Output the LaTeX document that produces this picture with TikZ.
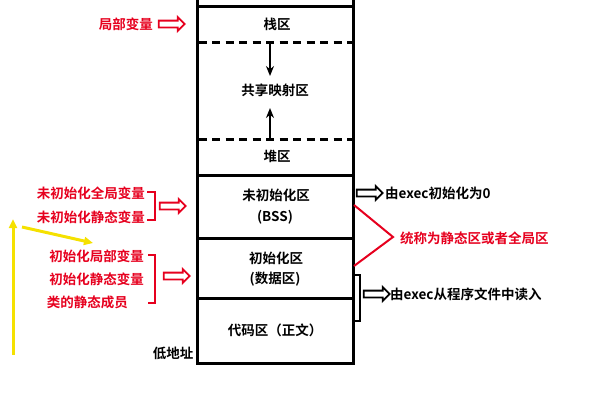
\documentclass[tikz,border=0pt]{standalone}
\usepackage{fontspec}
\newfontfamily\cjk{Noto Sans CJK SC}[BoldFont={* Bold}]
\usetikzlibrary{arrows.meta, shapes.arrows}

\definecolor{memred}{RGB}{230,0,30}
\definecolor{memyellow}{RGB}{245,225,0}

\begin{document}
\begin{tikzpicture}[x=1pt, y=-1pt,
  every node/.style={font=\cjk\bfseries\fontsize{13.5}{16}\selectfont, inner sep=0pt},
  seg/.style={line width=3pt},
  gap/.style={line width=3pt, dash pattern=on 8pt off 5.5pt},
  growarrow/.style={-{Stealth[length=10pt, width=8pt]}, line width=2.6pt},
  hollow/.style={single arrow, draw=#1, line width=1.8pt, fill=white,
    inner sep=2.5pt, minimum height=26pt, minimum width=13pt,
    single arrow head extend=3.5pt, single arrow tip angle=90},
  hollow/.default=black,
  redtext/.style={text=memred},
  brace/.style={memred, line width=2pt},
  hint/.style={memyellow, line width=3pt, -{Triangle[length=9pt, width=8pt]}}
]

% Fix the page to the reference size
\useasboundingbox (0,0) rectangle (600,400);

% Memory column
\coordinate (tl) at (197,0);
\coordinate (br) at (353,363);
\draw[seg] (tl) -- (197,363) -- (br) -- (353,0);
\draw[seg] (197,6) -- (353,6);
\draw[gap] (198.5,42) -- (351.5,42);
\draw[gap] (198.5,139) -- (351.5,139);
\draw[seg] (197,175) -- (353,175);
\draw[seg] (197,238) -- (353,238);
\draw[seg] (197,298) -- (353,298);

% Segment labels
\node (stack) at (277,24) {栈区};
\node (shared) at (275,90) {共享映射区};
\node (heap) at (277,156) {堆区};
\node (bss) at (276,195) {未初始化区};
\node (bssname) at (275,217) {(BSS)};
\node (data) at (276,258) {初始化区};
\node (dataname) at (275,279) {(数据区)};
\node (text) at (275,330) {代码区（正文）};
\node (low) at (173,353) {低地址};

% Growth of stack and heap
\coordinate (s0) at (270,42);
\coordinate (s1) at (270,76);
\coordinate (h0) at (270,139);
\coordinate (h1) at (270,108);
\draw[growarrow] (s0) -- (s1);
\draw[growarrow] (h0) -- (h1);

% Left side: what lives where
\node[redtext, anchor=east] (local) at (153,24) {局部变量};
\node[hollow=memred] (localarr) at (170,24) {};

\node[redtext, anchor=east] (ug) at (145,193) {未初始化全局变量};
\node[redtext, anchor=east] (us) at (145,217) {未初始化静态变量};
\draw[brace] (147,192) -| (155,220) -- (147,220);
\node[hollow=memred] (uarr) at (171,206) {};

\node[redtext, anchor=east] (il) at (144,256) {初始化局部变量};
\node[redtext, anchor=east] (is) at (144,279) {初始化静态变量};
\node[redtext, anchor=east] (cm) at (128,302) {类的静态成员};
\draw[brace] (148,255) -| (155,303) -- (148,303);
\node[hollow=memred] (iarr) at (175,276) {};

% Right side notes
\node[hollow] (zeroarr) at (368,193) {};
\node[anchor=west] (zero) at (385,193) {由exec初始化为0};

\coordinate (r0) at (354,205);
\coordinate (r1) at (393,237);
\coordinate (r2) at (354,266);
\draw[memred, line width=2pt] (r0) -- (r1) -- (r2);
\node[redtext, anchor=west] (static) at (400,238) {统称为静态区或者全局区};

\draw[line width=1.5pt] (354.5,275) rectangle (360,321);
\node[hollow] (readarr) at (375,294) {};
\node[anchor=west] (read) at (390,294) {由exec从程序文件中读入};

% Yellow hints
\coordinate (y0) at (13,355);
\coordinate (y1) at (13,219);
\coordinate (y2) at (22,227);
\coordinate (y3) at (93,243);
\draw[hint] (y0) -- (y1);
\draw[hint] (y2) -- (y3);

\end{tikzpicture}
\end{document}
